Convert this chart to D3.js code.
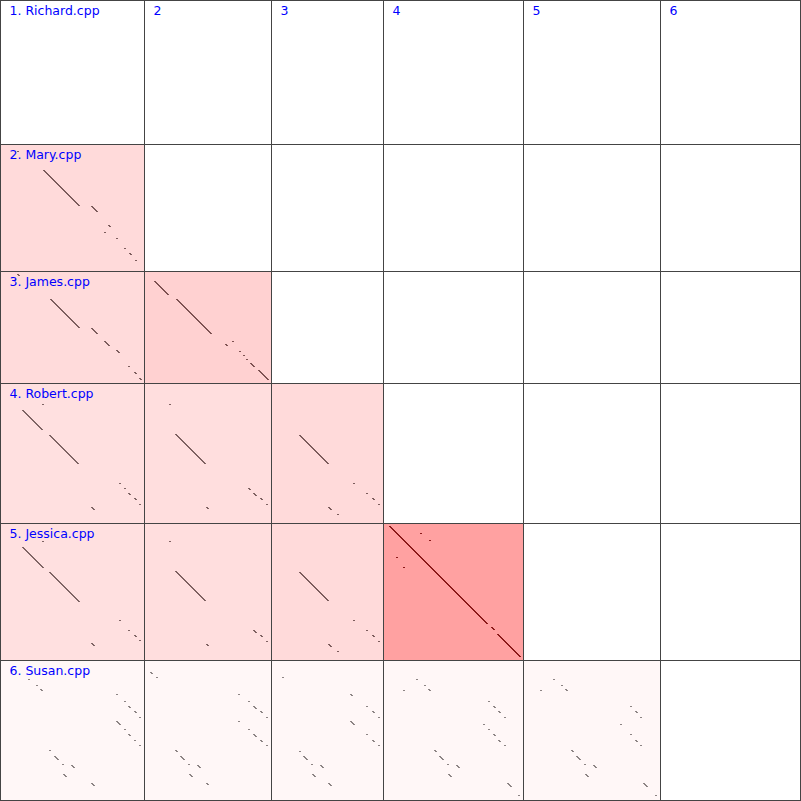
<!DOCTYPE html>
<html><head><meta charset="utf-8">
<script src="https://cdn.jsdelivr.net/npm/d3@7"></script>
<style>html,body{margin:0;padding:0;background:#fff;}svg{display:block;}</style>
</head><body>
<svg id="chart" width="801" height="801"></svg>
<script>
// ---- data ----
const files = ["Richard.cpp", "Mary.cpp", "James.cpp", "Robert.cpp", "Jessica.cpp", "Susan.cpp"];
const lineCounts = [144, 127, 112, 140, 137, 140];
const colLabels = ["1. Richard.cpp", "2", "3", "4", "5", "6"];

// similarity of [row file, column file]
const simRow = [1, 2, 2, 3, 3, 3, 4, 4, 4, 4, 5, 5, 5, 5, 5];
const simCol = [0, 0, 1, 0, 1, 2, 0, 1, 2, 3, 0, 1, 2, 3, 4];
const simValue = [0.145, 0.14, 0.18, 0.12, 0.13, 0.145, 0.12, 0.13, 0.145, 0.37, 0.03, 0.03, 0.03, 0.03, 0.03];

// matches: [line in column file, line in row file, run length]
const maryRichard = [[43,26,36],[91,62,6],[108,81,2],[104,88,0],[116,94,1],[124,104,1],[129,109,2],[135,116,1],[17,7,0]];
const jamesRichard = [[17,3,2],[50,28,29],[91,57,6],[104,70,5],[116,79,3],[128,95,1],[134,101,2],[139,107,2]];
const jamesMary = [[10,10,14],[32,28,35],[81,73,2],[88,70,0],[95,80,1],[99,84,0],[102,88,0],[106,92,4],[114,99,10]];
const robertRichard = [[42,21,1],[22,27,20],[49,52,29],[119,100,0],[124,105,1],[128,110,2],[134,115,2],[139,121,0],[91,124,3]];
const robertMary = [[25,21,1],[31,51,30],[104,105,2],[109,110,3],[116,115,2],[122,121,0],[62,124,2]];
const robertJames = [[28,52,29],[82,100,1],[95,110,1],[101,115,2],[107,121,0],[57,124,3],[66,131,1]];
const jessicaRichard = [[42,18,1],[22,24,21],[49,49,30],[119,97,0],[128,107,1],[134,112,2],[139,117,0],[91,120,3]];
const jessicaMary = [[25,18,1],[31,48,30],[109,107,3],[116,112,2],[122,118,0],[62,121,2]];
const jessicaJames = [[28,49,29],[82,97,1],[95,107,1],[101,112,2],[107,118,0],[57,121,3],[66,128,1]];
const jessicaRobert = [[6,3,98],[108,104,3],[114,111,23],[37,10,1],[46,17,1],[13,34,0],[20,44,0]];
const susanRichard = [[28,19,0],[36,25,1],[40,29,2],[116,34,0],[124,41,1],[128,46,2],[134,51,2],[139,57,0],[116,61,4],[124,69,1],[128,74,2],[134,80,1],[139,85,1],[49,90,1],[54,96,4],[62,104,0],[71,105,3],[63,114,3],[91,123,3]];
const susanMary = [[6,12,2],[12,17,0],[94,34,1],[104,41,1],[109,46,3],[116,51,2],[122,57,1],[94,61,1],[104,69,1],[109,74,3],[116,80,2],[122,85,1],[31,90,2],[36,96,4],[44,104,1],[53,105,3],[45,114,3],[62,123,2]];
const susanJames = [[11,17,1],[79,34,2],[95,46,0],[101,51,2],[107,57,1],[79,61,4],[95,74,1],[101,80,2],[107,85,1],[28,91,0],[32,96,4],[40,104,0],[49,105,3],[41,114,3],[57,123,3]];
const susanRobert = [[33,19,0],[20,30,1],[41,25,1],[45,29,2],[105,41,1],[110,46,2],[115,51,2],[121,57,0],[100,64,1],[105,69,1],[110,74,2],[115,80,2],[121,85,0],[51,90,2],[56,96,4],[64,104,1],[73,105,3],[65,114,3],[124,123,4],[135,135,1]];
const susanJessica = [[30,19,0],[17,30,1],[38,25,1],[42,29,2],[107,46,1],[112,51,2],[117,57,0],[97,64,1],[107,74,1],[112,80,2],[117,85,0],[48,90,2],[53,96,4],[61,104,1],[70,105,3],[62,114,3],[120,123,4],[132,135,1]];

// ---- build table ----
const matchTable = [
  {row:1,col:0,m:maryRichard},{row:2,col:0,m:jamesRichard},{row:2,col:1,m:jamesMary},
  {row:3,col:0,m:robertRichard},{row:3,col:1,m:robertMary},{row:3,col:2,m:robertJames},
  {row:4,col:0,m:jessicaRichard},{row:4,col:1,m:jessicaMary},{row:4,col:2,m:jessicaJames},{row:4,col:3,m:jessicaRobert},
  {row:5,col:0,m:susanRichard},{row:5,col:1,m:susanMary},{row:5,col:2,m:susanJames},{row:5,col:3,m:susanRobert},{row:5,col:4,m:susanJessica}
];
const simMap = new Map(simRow.map((r,i)=>[r+"-"+simCol[i], simValue[i]]));

const total = d3.sum(lineCounts);
const offsets = [0];
lineCounts.forEach((c,i)=>offsets.push(offsets[i]+c));
const W = 800;
const x = d3.scaleLinear().domain([0,total]).range([0,W]);
const y = d3.scaleLinear().domain([0,total]).range([0,W]);
const fillScale = d3.interpolateRgb("#ffffff", "#ff0000");
const segColor = d3.scaleLinear().domain([0.03,0.145,0.37]).range(["#8c8484","#7c5c5c","#8b1a1a"]);

const svg = d3.select("#chart");
const cells = [];
for (let r=0;r<files.length;r++) for (let c=0;c<files.length;c++) cells.push({r,c,s:simMap.get(r+"-"+c)});

svg.append("g").selectAll("rect").data(cells).join("rect")
  .attr("x", d=>x(offsets[d.c])+0.5).attr("y", d=>y(offsets[d.r])+0.5)
  .attr("width", d=>x(offsets[d.c+1])-x(offsets[d.c]))
  .attr("height", d=>y(offsets[d.r+1])-y(offsets[d.r]))
  .attr("fill", d=>d.s==null?"#ffffff":fillScale(d.s))
  .attr("stroke","#444").attr("stroke-width",1);

// each matched line pair drawn as a small step of the diagonal run
const segG = svg.append("g").attr("shape-rendering","crispEdges");
matchTable.forEach(t=>{
  const s = simMap.get(t.row+"-"+t.col);
  const steps = [];
  t.m.forEach(d=>{
    const n = Math.max(d[2],1);
    for (let k=0;k<n;k++) steps.push([d[0]+k, d[1]+k]);
  });
  segG.append("g").attr("fill", segColor(s)).selectAll("rect").data(steps).join("rect")
    .attr("x", d=>Math.round(x(offsets[t.col]+d[0])))
    .attr("y", d=>Math.round(y(offsets[t.row]+d[1])))
    .attr("width", 2).attr("height", 1);
});

const labG = svg.append("g").attr("font-family","DejaVu Sans").attr("font-size","12.5px").attr("fill","#0000ff");
labG.selectAll("text.row").data(files.slice(1)).join("text").attr("class","row")
  .attr("x", 9.5).attr("y", (d,i)=>y(offsets[i+1])+15).text((d,i)=>(i+2)+". "+d);
labG.selectAll("text.col").data(colLabels).join("text").attr("class","col")
  .attr("x", (d,i)=>x(offsets[i])+9.5).attr("y", 15).text(d=>d);
</script>
</body></html>
